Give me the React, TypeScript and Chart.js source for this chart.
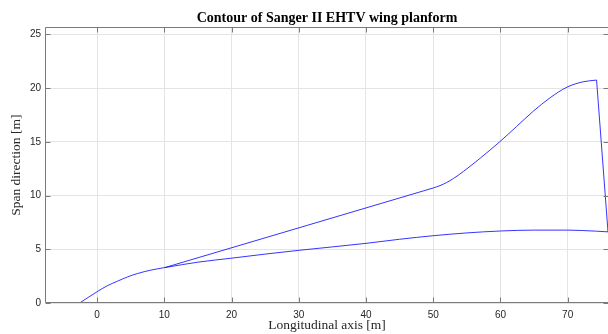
import React, { useEffect, useRef } from 'react';
import { Chart, registerables } from 'chart.js';

Chart.register(...registerables);

// Leading-edge fillet (apex to kink)
const leadX = [-2.6, -1.5, 0, 1.5, 3, 4.5, 6, 8, 10.1];
const leadY = [0, 0.45, 1.05, 1.6, 2.02, 2.42, 2.74, 3.06, 3.3];

// Straight leading edge
const edgeX = [10.1, 50];
const edgeY = [3.3, 10.7];

// Outer curved leading edge up to the tip
const outerX = [50, 51, 52, 53, 54.5, 57, 59.9, 62.4, 64.9, 67.4, 69.9, 72.3, 74.3];
const outerY = [10.7, 10.92, 11.21, 11.58, 12.24, 13.48, 15.0, 16.42, 17.85, 19.1, 20.08, 20.58, 20.74];

// Trailing edge
const trailX = [74.3, 76];
const trailY = [20.74, 6.62];

// Lower contour (fuselage side)
const lowerX = [10.1, 15, 20, 25, 30, 35, 40, 45, 50, 55, 60, 65, 70, 74.3, 76];
const lowerY = [3.3, 3.8, 4.17, 4.55, 4.9, 5.22, 5.55, 5.93, 6.26, 6.52, 6.7, 6.78, 6.78, 6.68, 6.62];

const xTicks = [0, 10, 20, 30, 40, 50, 60, 70];
const yTicks = [0, 5, 10, 15, 20, 25];

const X_MIN = -7.6;
const X_MAX = 76;
const Y_MIN = 0;
const Y_MAX = 25.65;

const pts = (xs: number[], ys: number[]) => xs.map((x, i) => ({ x, y: ys[i] }));

const LINE = '#0000ff';

const boxPlugin = {
  id: 'matlabBox',
  afterDatasetsDraw(chart: any) {
    const { ctx, chartArea: a, scales } = chart;
    const L = Math.round(a.left) - 0.5;
    const R = Math.round(a.right) + 0.5;
    const T = Math.round(a.top) + 0.5;
    const B = Math.round(a.bottom) - 0.5;
    ctx.save();
    ctx.strokeStyle = '#7a7a7a';
    ctx.lineWidth = 1;
    ctx.beginPath();
    ctx.moveTo(L, T);
    ctx.lineTo(R, T);
    ctx.lineTo(R, B);
    ctx.lineTo(L, B);
    ctx.closePath();
    const tl = 5;
    for (const v of xTicks) {
      const px = Math.round(scales.x.getPixelForValue(v)) + 0.5;
      ctx.moveTo(px, B);
      ctx.lineTo(px, B - tl);
      ctx.moveTo(px, T);
      ctx.lineTo(px, T + tl);
    }
    for (const v of yTicks) {
      const py = Math.round(scales.y.getPixelForValue(v)) + 0.5;
      ctx.moveTo(L, py);
      ctx.lineTo(L + tl, py);
      ctx.moveTo(R, py);
      ctx.lineTo(R - tl, py);
    }
    ctx.stroke();
    ctx.restore();
  },
};

export default function App() {
  const ref = useRef<HTMLCanvasElement | null>(null);

  useEffect(() => {
    if (!ref.current) return;
    const mk = (xs: number[], ys: number[], mono: boolean) => ({
      data: pts(xs, ys),
      showLine: true,
      borderColor: LINE,
      borderWidth: 0.8,
      pointRadius: 0,
      fill: false,
      cubicInterpolationMode: mono ? 'monotone' : 'default',
      tension: 0,
    });
    const chart = new Chart(ref.current, {
      type: 'scatter',
      data: {
        datasets: [
          mk(leadX, leadY, true),
          mk(edgeX, edgeY, false),
          mk(outerX, outerY, true),
          mk(trailX, trailY, false),
          mk(lowerX, lowerY, true),
        ] as any,
      },
      options: {
        animation: false,
        responsive: false,
        layout: { padding: 0 },
        plugins: {
          legend: { display: false },
          tooltip: { enabled: false },
          title: {
            display: true,
            fullSize: false,
            text: 'Contour of Sanger II EHTV wing planform',
            color: '#000',
            font: { family: 'Liberation Serif', size: 14, weight: 'bold' },
            padding: { top: 10, bottom: 0.5 },
          },
        },
        scales: {
          x: {
            type: 'linear',
            min: X_MIN,
            max: X_MAX,
            afterBuildTicks: (s: any) => {
              s.ticks = xTicks.map((v) => ({ value: v }));
            },
            afterFit: (s: any) => {
              s.height = 31;
            },
            grid: { color: '#e4e4e4', drawTicks: false },
            border: { display: false },
            ticks: {
              padding: 6,
              color: '#262626',
              font: { family: 'Liberation Sans', size: 10 },
              maxRotation: 0,
            },
            title: {
              display: true,
              text: 'Longitudinal axis [m]',
              color: '#262626',
              font: { family: 'Liberation Serif', size: 13.5 },
              padding: { top: 0, bottom: 0 },
            },
          },
          y: {
            type: 'linear',
            min: Y_MIN,
            max: Y_MAX,
            afterBuildTicks: (s: any) => {
              s.ticks = yTicks.map((v) => ({ value: v }));
            },
            afterFit: (s: any) => {
              s.width = 46;
            },
            grid: { color: '#e4e4e4', drawTicks: false },
            border: { display: false },
            ticks: {
              padding: 5,
              color: '#262626',
              font: { family: 'Liberation Sans', size: 10 },
            },
            title: {
              display: true,
              text: 'Span direction [m]',
              color: '#262626',
              font: { family: 'Liberation Serif', size: 13.5 },
              padding: { top: 8, bottom: 0 },
            },
          },
        },
      },
      plugins: [boxPlugin],
    } as any);
    return () => chart.destroy();
  }, []);

  return (
    <div style={{ position: 'fixed', left: 0, top: 0, width: 608, height: 334, background: '#fff' }}>
      <canvas ref={ref} width={608} height={334} style={{ display: 'block' }} />
    </div>
  );
}
